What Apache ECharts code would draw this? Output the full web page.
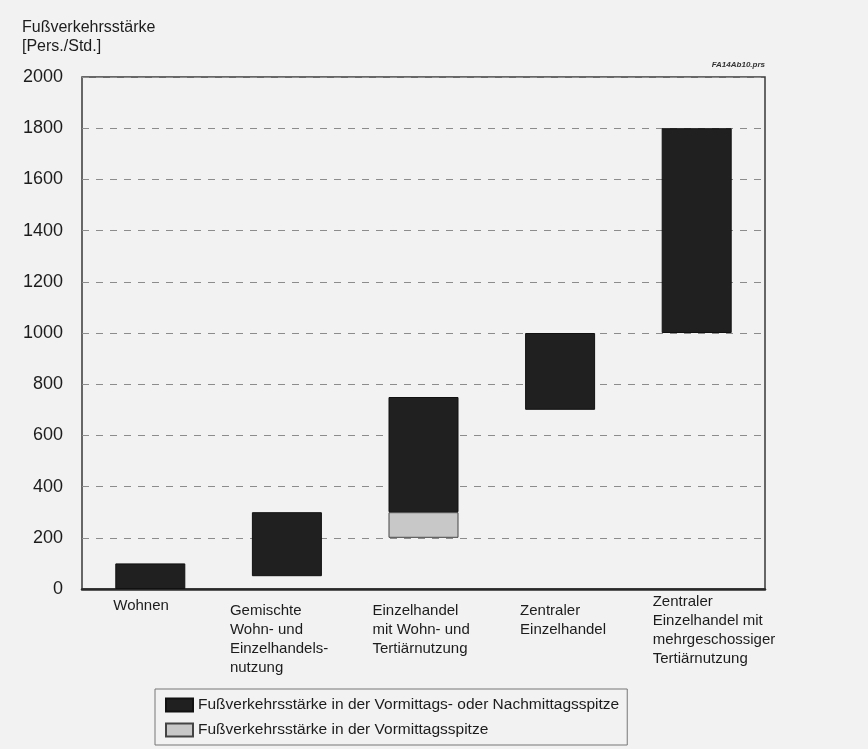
<!DOCTYPE html>
<html><head><meta charset="utf-8">
<script src="https://cdn.jsdelivr.net/npm/echarts@6/dist/echarts.min.js"></script>
<style>html,body{margin:0;padding:0;background:#f2f2f2}#c{width:868px;height:749px}</style>
</head><body><div id="c"></div>
<script>
// ---- data ----
const categories = [
  'Wohnen',
  'Gemischte\nWohn- und\nEinzelhandels-\nnutzung',
  'Einzelhandel\nmit Wohn- und\nTertiärnutzung',
  'Zentraler\nEinzelhandel',
  'Zentraler\nEinzelhandel mit\nmehrgeschossiger\nTertiärnutzung'
];
const seriesNames = [
  'Fußverkehrsstärke in der Vormittags- oder Nachmittagsspitze',
  'Fußverkehrsstärke in der Vormittagsspitze'
];
const peakLow     = [0, 50, 300, 700, 1000];
const peakHigh    = [100, 300, 750, 1000, 1800];
const morningLow  = [null, null, 200, null, null];
const morningHigh = [null, null, 300, null, null];
const yTitle = 'Fußverkehrsstärke\n[Pers./Std.]';
const fileTag = 'FA14Ab10.prs';
const yMin = 0, yMax = 2000, yStep = 200;

// ---- build stacked series ----
const base = peakLow.map((v, i) => morningLow[i] != null ? Math.min(v, morningLow[i]) : v);
const morning = morningLow.map((v, i) => v != null ? morningHigh[i] - v : '-');
const peak = peakHigh.map((v, i) => v - peakLow[i]);

// label placement (style only)
const labelPad = [[4,0,0,42],[9,0,0,2],[9,0,0,14],[9,0,0,36],[0,0,0,28]];

const FONT = 'Liberation Sans, Arial, Helvetica, sans-serif';
const chart = echarts.init(document.getElementById('c'), null, {renderer: 'canvas'});
chart.setOption({
  backgroundColor: '#f2f2f2',
  animation: false,
  textStyle: {fontFamily: FONT},
  title: [
    {text: yTitle, left: 22, top: 18, padding: 0,
     textStyle: {fontSize: 16, fontWeight: 'normal', color: '#1c1c1c', lineHeight: 19, fontFamily: FONT}},
    {text: fileTag, right: 103, top: 61, padding: 0,
     textStyle: {fontSize: 8, fontStyle: 'italic', fontWeight: 'bold', color: '#333', fontFamily: FONT}}
  ],
  grid: {left: 82, right: 103, top: 77, bottom: 160, show: true,
         borderColor: '#3a3a3a', borderWidth: 1.5, backgroundColor: 'transparent',
         containLabel: false, outerBoundsMode: 'none'},
  legend: {
    data: seriesNames, orient: 'vertical', left: 155, top: 689,
    itemWidth: 27, itemHeight: 13, itemGap: 9, padding: [8, 8, 7, 10],
    borderColor: '#777', borderWidth: 1, selectedMode: false, icon: 'rect',
    textStyle: {fontSize: 15.5, color: '#1c1c1c', fontFamily: FONT}
  },
  xAxis: {
    type: 'category',
    data: categories.map((c, i) => ({value: c, textStyle: {padding: labelPad[i]}})),
    axisLine: {show: true, lineStyle: {color: '#2a2a2a', width: 2.5}},
    axisTick: {show: false},
    splitLine: {show: false},
    axisLabel: {
      interval: 0, margin: 3, color: '#1c1c1c', fontSize: 15, lineHeight: 19,
      formatter: v => v.split('\n').map(s => '{t|' + s + '}').join('\n'),
      rich: {t: {width: 116, align: 'left', fontSize: 15, lineHeight: 19, color: '#1c1c1c', fontFamily: FONT}}
    }
  },
  yAxis: {
    type: 'value', min: yMin, max: yMax, interval: yStep,
    axisLine: {show: false}, axisTick: {show: false},
    axisLabel: {fontSize: 18, color: '#1c1c1c', margin: 19, formatter: v => String(v)},
    splitLine: {show: true, lineStyle: {type: [7, 7], color: '#8c8c8c', width: 1}}
  },
  series: [
    {name: '_base', type: 'bar', stack: 'a', data: base, barWidth: 70, silent: true,
     itemStyle: {color: 'rgba(0,0,0,0)'}, emphasis: {disabled: true}},
    {name: seriesNames[1], type: 'bar', stack: 'a', data: morning, barWidth: 70,
     itemStyle: {color: '#c8c8c8', borderColor: '#444', borderWidth: 1}},
    {name: seriesNames[0], type: 'bar', stack: 'a', data: peak, barWidth: 70,
     itemStyle: {color: '#202020', borderColor: '#111', borderWidth: 1}}
  ]
});
</script></body></html>
